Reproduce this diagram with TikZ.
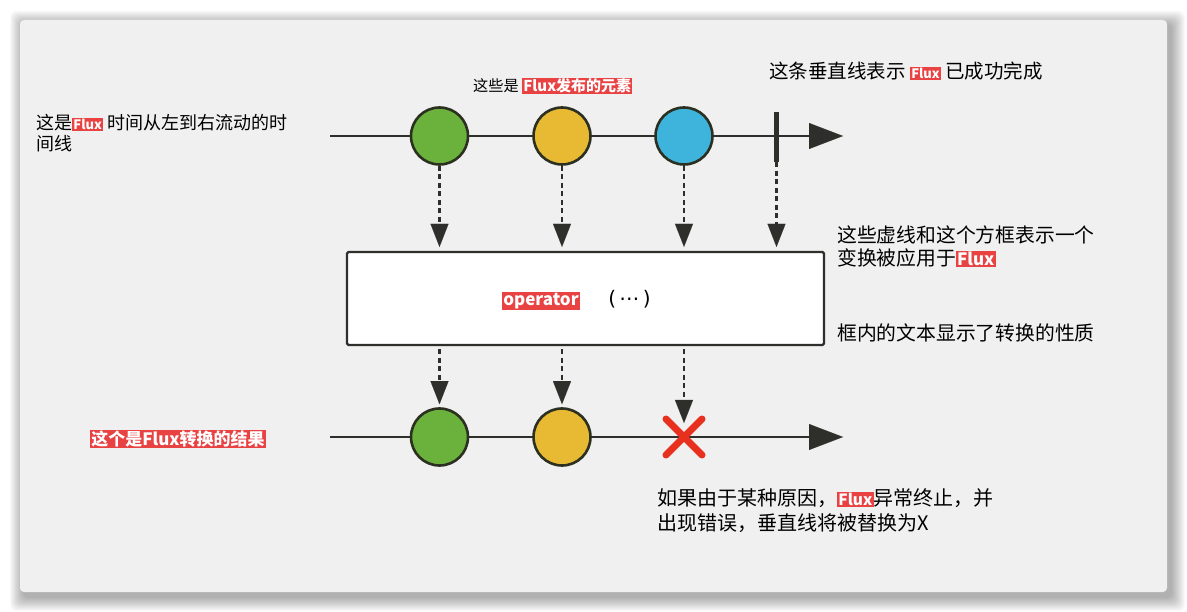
\documentclass[tikz,border=0pt]{standalone}
\usepackage{fontspec}
\setmainfont{Noto Sans CJK SC}
\newfontfamily\latinsans{DejaVu Sans}
\usetikzlibrary{arrows.meta}
\definecolor{panelbg}{HTML}{F0F0F0}
\definecolor{inkdark}{HTML}{2E2E2A}
\definecolor{ringdark}{HTML}{2B3020}
\definecolor{dotgreen}{HTML}{6BB23C}
\definecolor{dotyellow}{HTML}{E8B932}
\definecolor{dotblue}{HTML}{3EB4DD}
\definecolor{fluxred}{HTML}{E84243}
\definecolor{crossred}{HTML}{E8301F}
\newcommand\redbadge[2]{{\setlength{\fboxsep}{1.2pt}\colorbox{fluxred}{\fontsize{#1}{#1}\selectfont\bfseries\color{white}#2}}}
\tikzset{
  timeline/.style={draw=inkdark, line width=2.6pt, -{Triangle[width=26pt,length=34pt,line width=0.1pt]}},
  marble/.style={circle, draw=ringdark, line width=2.6pt, minimum size=57pt, inner sep=0pt},
  dasharrow/.style={draw=inkdark, line width=2.8pt, dash pattern=on 5pt off 3.5pt, -{Triangle[width=18pt,length=23pt,line width=0.1pt]}},
  crossline/.style={draw=crossred, line width=7pt, line cap=round},
  label/.style={anchor=west, align=left, inner sep=0pt, text=black},
}
\begin{document}
\begin{tikzpicture}[x=1pt,y=-1pt]
\useasboundingbox (0,0) rectangle (1187,612);
\fill[white] (0,0) rectangle (1187,612);
% panel shadow
\foreach \i in {1,...,14}{
  \fill[black, opacity=0.022, rounded corners=6pt] (20-\i+4,20-\i+5) rectangle (1167+\i+4,592+\i+5);
}
\fill[panelbg, rounded corners=4pt] (20,20) rectangle (1167,592);

% top timeline
\coordinate (t1s) at (330,136);
\coordinate (t1e) at (843,136);
\draw[timeline] (t1s) -- (t1e);
\node[marble, fill=dotgreen] (g1) at (439.5,136) {};
\node[marble, fill=dotyellow] (y1) at (562,136) {};
\node[marble, fill=dotblue] (b1) at (684,136) {};
\node[fill=inkdark, minimum width=5pt, minimum height=50pt, inner sep=0pt] (bar) at (776.5,137) {};

% operator box
\node[draw=inkdark, line width=2.2pt, fill=white, rounded corners=1.5pt, minimum width=477pt, minimum height=93pt, inner sep=0pt] (op) at (585.5,298.5) {};
\node[inner sep=0pt] (opname) at (541,301) {\redbadge{17}{operator}};
\node[inner sep=0pt, font=\latinsans\fontsize{20}{20}\selectfont] (dots) at (629.5,299) {(\,⋯\,)};

% dashed arrows into the box
\draw[dasharrow, shorten >=4pt] (g1.south) -- (g1.south |- op.north);
\draw[dasharrow, shorten >=4pt] (y1.south) -- (y1.south |- op.north);
\draw[dasharrow, shorten >=4pt] (b1.south) -- (b1.south |- op.north);
\draw[dasharrow, shorten >=4pt] (bar.south) -- (bar.south |- op.north);

% bottom timeline
\coordinate (t2s) at (330,437);
\coordinate (t2e) at (843,437);
\draw[timeline] (t2s) -- (t2e);
\node[marble, fill=dotgreen] (g2) at (439.5,437) {};
\node[marble, fill=dotyellow] (y2) at (562,437) {};
\coordinate (err) at (684,437);
\draw[crossline] ([shift={(-18,-18)}]err) -- ([shift={(18,18)}]err);
\draw[crossline] ([shift={(-18,18)}]err) -- ([shift={(18,-18)}]err);

% dashed arrows out of the box
\draw[dasharrow, shorten <=3pt, shorten >=3pt] (g2.north |- op.south) -- (g2.north);
\draw[dasharrow, shorten <=3pt, shorten >=3pt] (y2.north |- op.south) -- (y2.north);
\draw[dasharrow, shorten <=3pt, shorten >=14pt] (err |- op.south) -- (err);

% labels
\node[label, font=\fontsize{18}{20.5}\selectfont] (lblTime) at (36,133)
  {这是\redbadge{13}{Flux} 时间从左到右流动的时\\间线};
\node[label, font=\fontsize{15.2}{17}\selectfont] (lblElems) at (473,86)
  {这些是 \redbadge{15}{Flux发布的元素}};
\node[label, font=\fontsize{19.5}{22}\selectfont] (lblDone) at (769,71)
  {这条垂直线表示 \redbadge{13}{Flux} 已成功完成};
\node[label, font=\fontsize{19.8}{23}\selectfont] (lblOp) at (837,246.5)
  {这些虚线和这个方框表示一个\\变换被应用于\redbadge{17}{Flux}};
\node[label, font=\fontsize{19.8}{23}\selectfont] (lblText) at (837,333)
  {框内的文本显示了转换的性质};
\node[label] (lblResult) at (90,439) {\redbadge{17}{这个是Flux转换的结果}};
\node[label, font=\fontsize{20}{25}\selectfont] (lblError) at (657,510.5)
  {如果由于某种原因，\redbadge{15.5}{Flux}异常终止，并\\出现错误，垂直线将被替换为X};
\end{tikzpicture}
\end{document}
